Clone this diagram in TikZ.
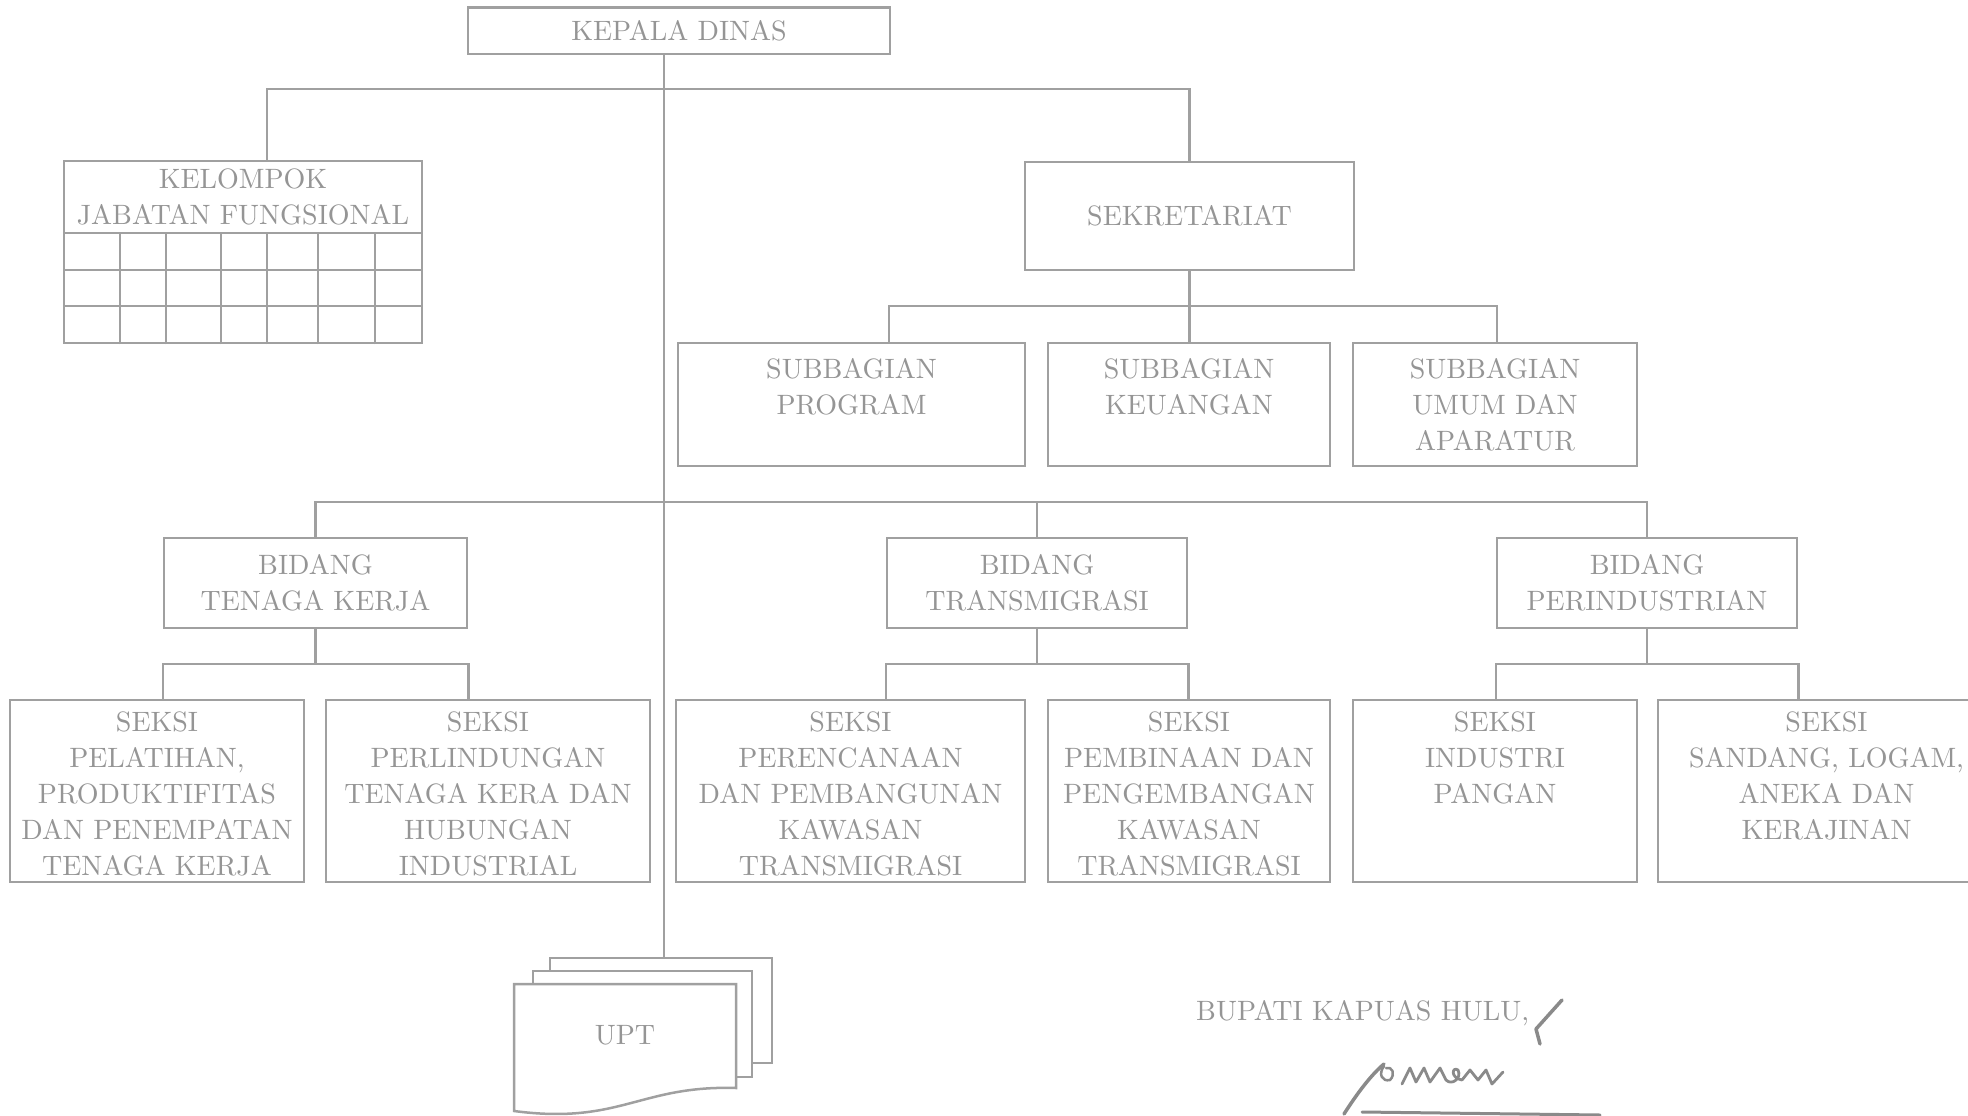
\documentclass[tikz,border=0pt]{standalone}
\usepackage{fontspec}
\setmainfont{lmroman10-regular.otf}
\usetikzlibrary{fit}
\definecolor{linec}{HTML}{A0A0A0}
\definecolor{textc}{HTML}{959595}
\definecolor{inkc}{HTML}{8A8A8A}
\tikzset{
  orgbox/.style={draw=linec, line width=2.5pt, fill=white, inner sep=0pt},
  conn/.style={draw=linec, line width=2.5pt},
  txt/.style={text=textc, align=center, inner sep=0pt, font=\fontsize{28}{36}\selectfont},
  ink/.style={draw=inkc, line width=3.5pt, line cap=round, line join=round}
}
\begin{document}
\begin{tikzpicture}[x=1pt,y=-1pt]
\useasboundingbox (0,0) rectangle (1968,1116);
\coordinate (spine) at (664,0);
% boxes
\node[orgbox, fit={(468,7.5) (890,54)}] (kd) {};
\node[txt] (kdt) at (kd.center) {KEPALA DINAS};
\node[orgbox, fit={(64,161) (422,343)}] (kjf) {};
\node[txt] (kjft) at (243,197) {KELOMPOK\\JABATAN FUNGSIONAL};
\node[orgbox, fit={(1025,162) (1354,270)}] (sek) {};
\node[txt] (sekt) at (sek.center) {SEKRETARIAT};
\node[orgbox, fit={(678,343) (1025,466)}] (sb1) {};
\node[orgbox, fit={(1048,343) (1330,466)}] (sb2) {};
\node[orgbox, fit={(1353,343) (1637,466)}] (sb3) {};
\node[txt, anchor=north] (sb1t) at ([yshift=-16pt]sb1.north) {SUBBAGIAN\\PROGRAM};
\node[txt, anchor=north] (sb2t) at ([yshift=-16pt]sb2.north) {SUBBAGIAN\\KEUANGAN};
\node[txt, anchor=north] (sb3t) at ([yshift=-16pt]sb3.north) {SUBBAGIAN\\UMUM DAN\\APARATUR};
\node[orgbox, fit={(164,538) (467,628)}] (b1) {};
\node[orgbox, fit={(887,538) (1187,628)}] (b2) {};
\node[orgbox, fit={(1497,538) (1797,628)}] (b3) {};
\node[txt] (b1t) at (b1.center) {BIDANG\\TENAGA KERJA};
\node[txt] (b2t) at (b2.center) {BIDANG\\TRANSMIGRASI};
\node[txt] (b3t) at (b3.center) {BIDANG\\PERINDUSTRIAN};
\node[orgbox, fit={(10,700) (304,882)}] (s1) {};
\node[orgbox, fit={(326,700) (650,882)}] (s2) {};
\node[orgbox, fit={(676,700) (1025,882)}] (s3) {};
\node[orgbox, fit={(1048,700) (1330,882)}] (s4) {};
\node[orgbox, fit={(1353,700) (1637,882)}] (s5) {};
\node[orgbox, fit={(1658,700) (1995,882)}] (s6) {};
\node[txt, anchor=north] (s1t) at ([yshift=-12.5pt]s1.north) {SEKSI\\PELATIHAN,\\PRODUKTIFITAS\\DAN PENEMPATAN\\TENAGA KERJA};
\node[txt, anchor=north] (s2t) at ([yshift=-12.5pt]s2.north) {SEKSI\\PERLINDUNGAN\\TENAGA KERA DAN\\HUBUNGAN\\INDUSTRIAL};
\node[txt, anchor=north] (s3t) at ([yshift=-12.5pt]s3.north) {SEKSI\\PERENCANAAN\\DAN PEMBANGUNAN\\KAWASAN\\TRANSMIGRASI};
\node[txt, anchor=north] (s4t) at ([yshift=-12.5pt]s4.north) {SEKSI\\PEMBINAAN DAN\\PENGEMBANGAN\\KAWASAN\\TRANSMIGRASI};
\node[txt, anchor=north] (s5t) at ([yshift=-12.5pt]s5.north) {SEKSI\\INDUSTRI\\PANGAN};
\node[txt, anchor=north] (s6t) at ([yshift=-12.5pt]s6.north) {SEKSI\\SANDANG, LOGAM,\\ANEKA DAN\\KERAJINAN};
% grid of kelompok
\draw[conn] (kjf.west |- 0,233) -- (kjf.east |- 0,233);
\draw[conn] (kjf.west |- 0,270) -- (kjf.east |- 0,270);
\draw[conn] (kjf.west |- 0,306) -- (kjf.east |- 0,306);
\foreach \cx in {120,166,221,267,318,375} {
  \draw[conn] (kjf.south -| \cx,0) -- (\cx,233);
}
% UPT stack
\node[orgbox, fit={(550,958) (772,1063)}] (uptb) {};
\node[orgbox, fit={(533,971) (752,1077)}] (uptm) {};
\draw[orgbox] (514,984) -- (736,984) -- (736,1088) .. controls (640,1085) and (620,1125) .. (514,1111) -- cycle;
\node[txt] (upt) at (625,1035) {UPT};
% connectors
\draw[conn] (kd.south -| spine) -- (uptb.north -| spine);
\draw[conn] (kjf.north -| 267,0) -- (267,89) -- (sek.north |- 0,89) -- (sek.north);
\draw[conn] (sek.south) -- (sek.south |- 0,306);
\draw[conn] (sb1.north -| 889,0) -- (889,306) -- (1497,306) -- (sb3.north -| 1497,0);
\draw[conn] (sb2.north -| sek.south) -- (sek.south |- 0,306);
\draw[conn] (b1.north) -- (b1.north |- 0,502) -- (b3.north |- 0,502) -- (b3.north);
\draw[conn] (b2.north) -- (b2.north |- 0,502);
\draw[conn] (b1.south) -- (b1.south |- 0,664);
\draw[conn] (s1.north -| b1.west) -- (b1.west |- 0,664) -- (b1.east |- 0,664) -- (s2.north -| b1.east);
\draw[conn] (b2.south) -- (b2.south |- 0,664);
\draw[conn] (s3.north -| b2.west) -- (b2.west |- 0,664) -- (b2.east |- 0,664) -- (s4.north -| b2.east);
\draw[conn] (b3.south) -- (b3.south |- 0,664);
\draw[conn] (s5.north -| b3.west) -- (b3.west |- 0,664) -- (b3.east |- 0,664) -- (s6.north -| b3.east);
% signature block
\node[txt, anchor=base west] (bup) at (1196,1020) {BUPATI KAPUAS HULU,};
\draw[ink] (1562,1000) -- (1536,1029) -- (1540,1044);
\draw[ink] (1344,1114) .. controls (1358,1092) and (1372,1074) .. (1384,1064);
\draw[ink, line width=2.5pt] (1384,1066) .. controls (1378,1074) and (1382,1082) .. (1390,1080) .. controls (1396,1074) and (1392,1066) .. (1386,1068);
\draw[ink, line width=2.8pt] (1402,1084) -- (1410,1068) -- (1416,1082) -- (1424,1068) -- (1430,1082) -- (1440,1068) -- (1446,1080) .. controls (1452,1086) and (1462,1078) .. (1458,1070) .. controls (1452,1066) and (1450,1078) .. (1462,1080) -- (1470,1070) -- (1478,1080) -- (1486,1070) -- (1492,1084) -- (1503,1072);
\draw[ink, line width=3pt] (1362,1112) -- (1600,1115);
\end{tikzpicture}
\end{document}
